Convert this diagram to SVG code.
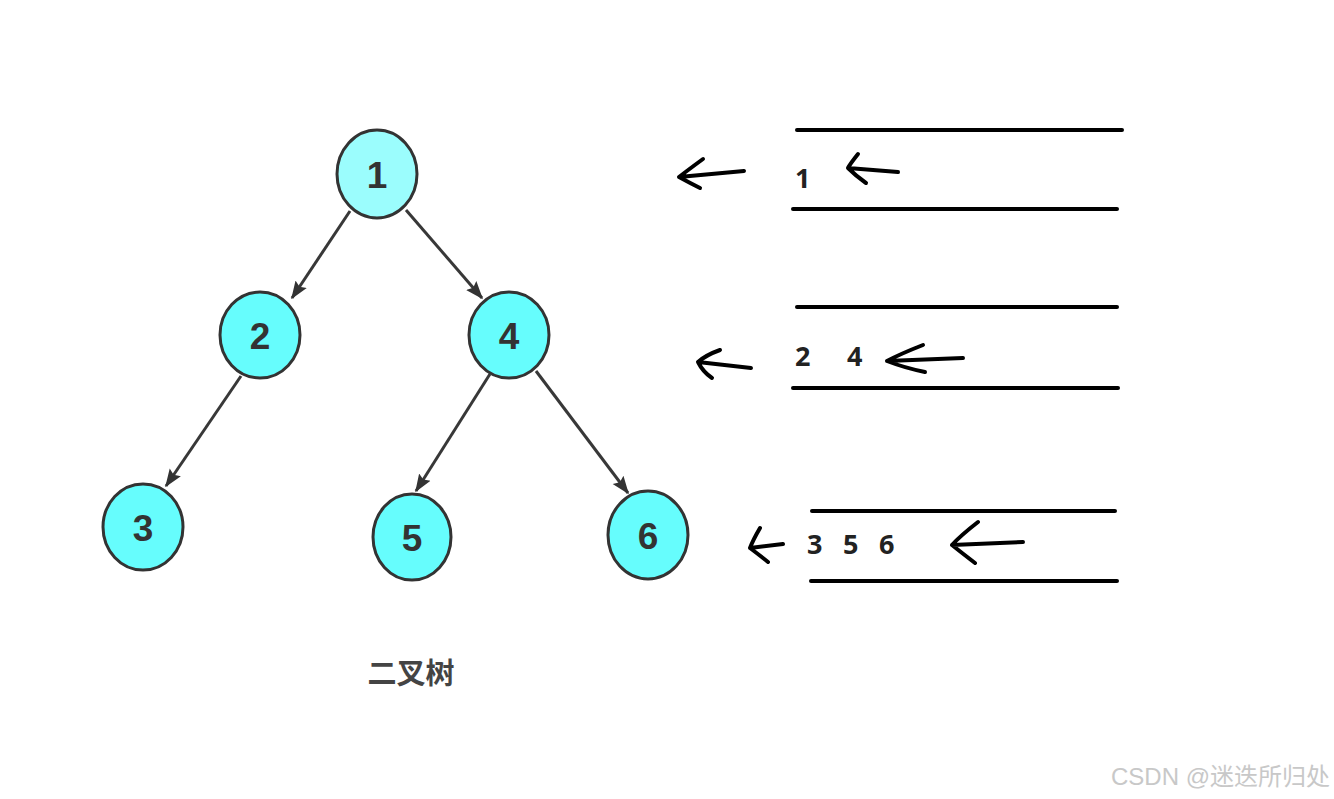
<svg xmlns="http://www.w3.org/2000/svg" width="1334" height="799" viewBox="0 0 1334 799">
<style>
.node{fill:#66fdfd;stroke:#333;stroke-width:3}
.nl{font-family:"Liberation Sans",Arial,sans-serif;font-weight:bold;font-size:37px;fill:#333;text-anchor:middle}
.edge{stroke:#383838;stroke-width:3;fill:none;marker-end:url(#ah)}
.rule{stroke:#000;stroke-width:4;stroke-linecap:round}
.hand{stroke:#000;stroke-width:4;stroke-linecap:round;stroke-linejoin:round;fill:none}
.q{font-family:"Open Sans","Liberation Sans",sans-serif;font-weight:bold;font-size:27px;fill:#222}
</style>
<defs>
<marker id="ah" viewBox="0 0 12 10" refX="11" refY="5" markerWidth="6" markerHeight="5" orient="auto" markerUnits="strokeWidth">
<path d="M0,0.5 L12,5 L0,9.5 L2,5 z" fill="#333"/>
</marker>
</defs>
<rect width="1334" height="799" fill="#fff"/>
<g id="connectors">
<line class="edge" x1="350" y1="211" x2="292" y2="298"/>
<line class="edge" x1="406" y1="210" x2="482" y2="298"/>
<line class="edge" x1="241" y1="376" x2="166" y2="486"/>
<line class="edge" x1="490" y1="374" x2="416" y2="491"/>
<line class="edge" x1="536" y1="371" x2="628" y2="493"/>
</g>
<g id="node1"><ellipse class="node" style="fill:#9bfdfd" cx="377" cy="174" rx="40" ry="44"/><text class="nl" x="377" y="188">1</text></g>
<g id="node2"><ellipse class="node" cx="260" cy="335" rx="40" ry="43"/><text class="nl" x="260" y="349">2</text></g>
<g id="node4"><ellipse class="node" cx="509" cy="335" rx="40" ry="43"/><text class="nl" x="509" y="349">4</text></g>
<g id="node3"><ellipse class="node" cx="143" cy="527" rx="40" ry="43"/><text class="nl" x="143" y="541">3</text></g>
<g id="node5"><ellipse class="node" cx="412" cy="537" rx="39" ry="43"/><text class="nl" x="412" y="551">5</text></g>
<g id="node6"><ellipse class="node" cx="648" cy="535" rx="40" ry="44"/><text class="nl" x="648" y="549">6</text></g>
<text x="411" y="684" font-family="'Noto Sans CJK SC',sans-serif" font-weight="bold" font-size="29" fill="#444" text-anchor="middle">二叉树</text>
<g id="queue1">
<line class="rule" x1="797" y1="130" x2="1122" y2="130"/>
<line class="rule" x1="793" y1="209" x2="1117" y2="209"/>
<text class="q" x="795" y="188">1</text>
<path class="hand" d="M898,172 L848,168 M858,154 Q850,164 848,168 Q856,176 866,183"/>
<path class="hand" d="M744,171 L679,177 M703,159 Q688,170 679,177 Q690,183 700,188"/>
</g>
<g id="queue2">
<line class="rule" x1="797" y1="307" x2="1117" y2="307"/>
<line class="rule" x1="793" y1="388" x2="1118" y2="388"/>
<text class="q" x="795" y="366">2</text>
<text class="q" x="847" y="366">4</text>
<path class="hand" d="M963,358 L887,361 M923,345 Q900,354 887,361 Q905,368 925,372"/>
<path class="hand" d="M751,368 L698,362 M720,350 Q706,355 698,362 Q703,372 712,378"/>
</g>
<g id="queue3">
<line class="rule" x1="812" y1="511" x2="1115" y2="511"/>
<line class="rule" x1="811" y1="581" x2="1117" y2="581"/>
<text class="q" x="807" y="554">3</text>
<text class="q" x="843" y="554">5</text>
<text class="q" x="879" y="554">6</text>
<path class="hand" d="M1023,542 L952,545 M978,522 Q960,536 952,545 Q962,553 975,563"/>
<path class="hand" d="M783,544 L750,548 M760,528 Q753,540 750,548 Q758,554 768,562"/>
</g>
<text x="1330" y="785" font-family="'Liberation Sans','Noto Sans CJK SC',sans-serif" font-size="24" fill="#c8c8c8" text-anchor="end">CSDN @迷迭所归处</text>
</svg>
